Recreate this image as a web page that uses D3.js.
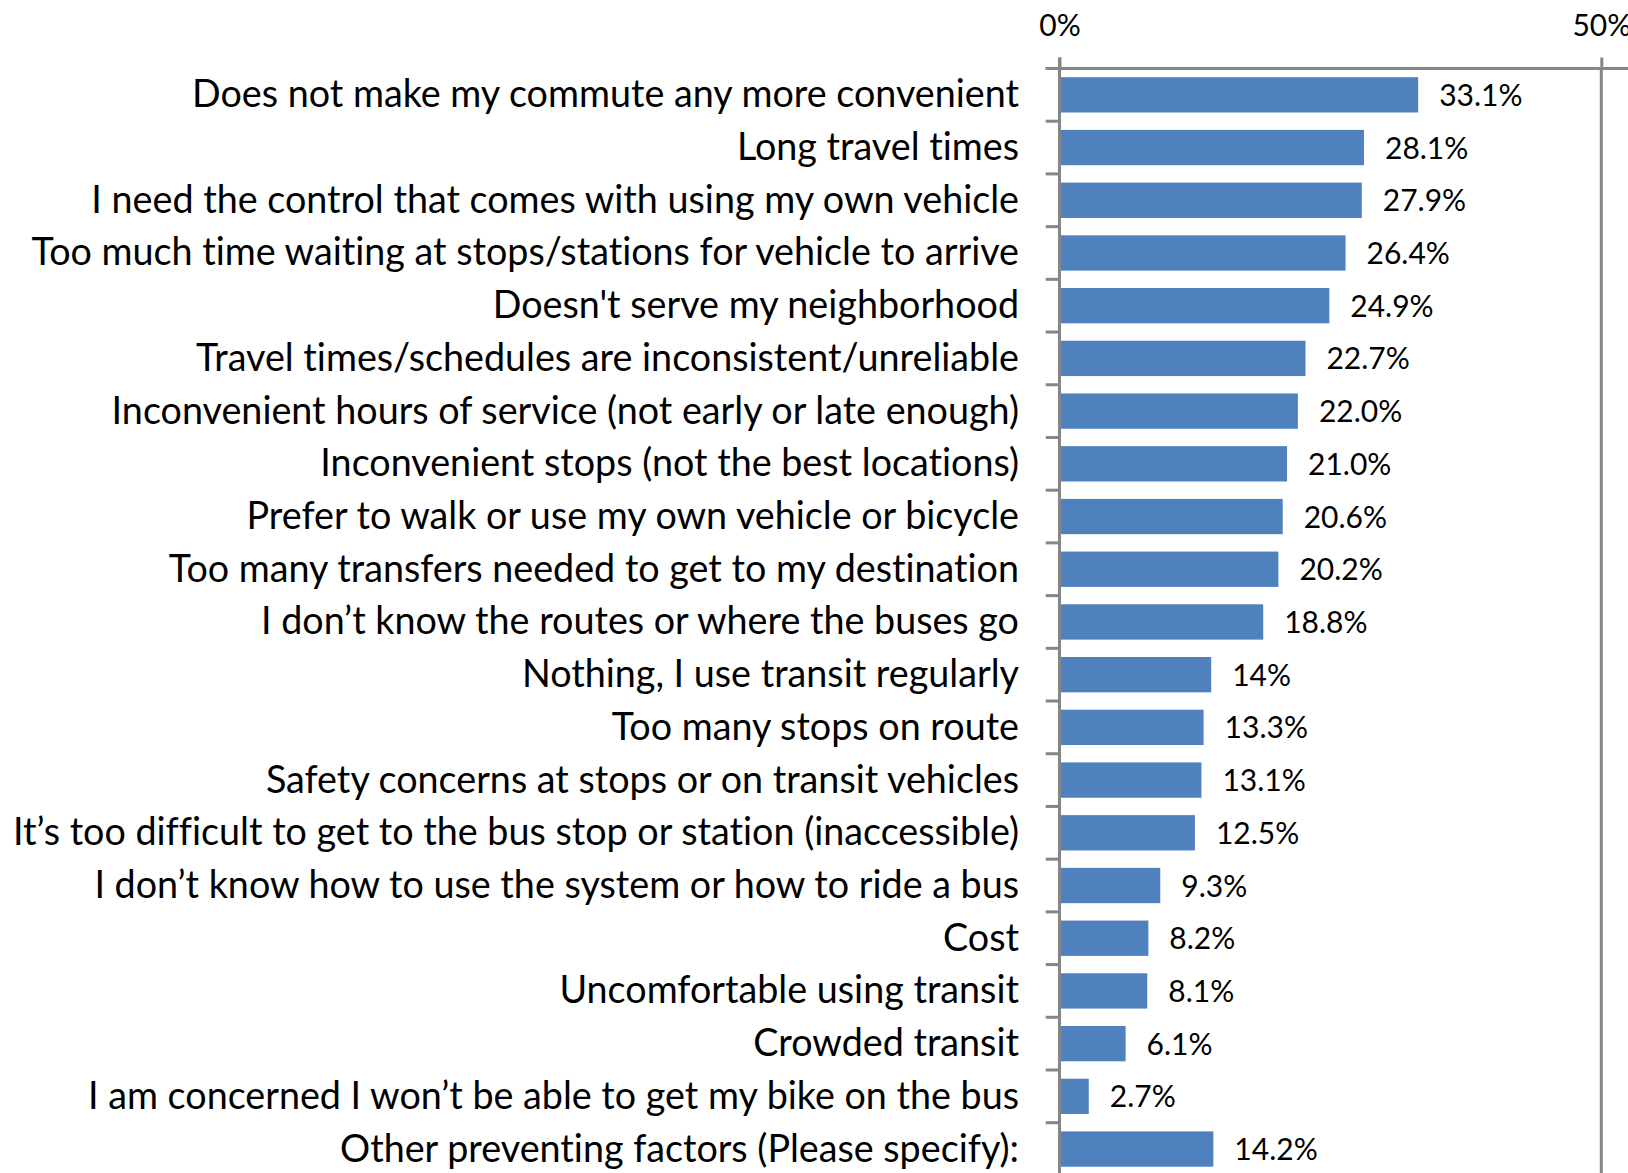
<!DOCTYPE html>
<html>
<head>
<meta charset="utf-8">
<script src="https://cdn.jsdelivr.net/npm/d3@7"></script>
<style>
  html, body { margin: 0; padding: 0; background: #ffffff; }
  svg { display: block; }
  text { font-variant-ligatures: none; }
</style>
</head>
<body>
<svg id="chart" width="1628" height="1173"></svg>
<script>
const categories = [
  "Does not make my commute any more convenient",
  "Long travel times",
  "I need the control that comes with using my own vehicle",
  "Too much time waiting at stops/stations for vehicle to arrive",
  "Doesn't serve my neighborhood",
  "Travel times/schedules are inconsistent/unreliable",
  "Inconvenient hours of service (not early or late enough)",
  "Inconvenient stops (not the best locations)",
  "Prefer to walk or use my own vehicle or bicycle",
  "Too many transfers needed to get to my destination",
  "I don\u2019t know the routes or where the buses go",
  "Nothing, I use transit regularly",
  "Too many stops on route",
  "Safety concerns at stops or on transit vehicles",
  "It\u2019s too difficult to get to the bus stop or station (inaccessible)",
  "I don\u2019t know how to use the system or how to ride a bus",
  "Cost",
  "Uncomfortable using transit",
  "Crowded transit",
  "I am concerned I won\u2019t be able to get my bike on the bus",
  "Other preventing factors (Please specify):"
];
const values = [33.1, 28.1, 27.9, 26.4, 24.9, 22.7, 22.0, 21.0, 20.6, 20.2, 18.8, 14, 13.3, 13.1, 12.5, 9.3, 8.2, 8.1, 6.1, 2.7, 14.2];
const valueLabels = ["33.1%", "28.1%", "27.9%", "26.4%", "24.9%", "22.7%", "22.0%", "21.0%", "20.6%", "20.2%", "18.8%", "14%", "13.3%", "13.1%", "12.5%", "9.3%", "8.2%", "8.1%", "6.1%", "2.7%", "14.2%"];
const xTicks = [0, 50];
const xTickLabels = ["0%", "50%"];

const svg = d3.select("#chart");
const W = 1628, H = 1173;
const x0 = 1059.5, x50 = 1601.3;
const topY = 68.5, step = 52.71;

const x = d3.scaleLinear().domain([0, 50]).range([x0, x50]);
const y = d3.scaleBand()
  .domain(categories)
  .range([topY, topY + step * categories.length])
  .paddingInner(0.33)
  .paddingOuter(0.165);

const axisColor = "#868686";
const barColor = "#4F81BD";
const fontFamily = "Lato, 'Open Sans', sans-serif";

// bars
svg.append("g").selectAll("rect")
  .data(categories)
  .join("rect")
  .attr("x", x(0))
  .attr("y", d => y(d))
  .attr("width", (d, i) => x(values[i]) - x(0))
  .attr("height", y.bandwidth())
  .attr("fill", barColor);

// gridlines (non-zero ticks) down the chart
svg.append("g").selectAll("line")
  .data(xTicks.filter(t => t !== 0))
  .join("line")
  .attr("x1", d => x(d)).attr("x2", d => x(d))
  .attr("y1", topY).attr("y2", H + 10)
  .attr("stroke", axisColor).attr("stroke-width", 3);

// top axis
const xAxis = d3.axisTop(x)
  .tickValues(xTicks)
  .tickFormat((d, i) => xTickLabels[i])
  .tickSizeInner(11)
  .tickSizeOuter(0)
  .tickPadding(22);
const gx = svg.append("g")
  .attr("transform", `translate(0,${topY})`)
  .call(xAxis);
gx.select(".domain").remove();
gx.selectAll(".tick line").attr("stroke", axisColor).attr("stroke-width", 3);
gx.selectAll(".tick text")
  .attr("fill", "#000")
  .style("font-family", fontFamily)
  .style("font-size", "30px");

// horizontal top axis line
svg.append("line")
  .attr("x1", x0 - 13.8).attr("x2", W + 10)
  .attr("y1", topY).attr("y2", topY)
  .attr("stroke", axisColor).attr("stroke-width", 3);

// vertical category axis
svg.append("line")
  .attr("x1", x0).attr("x2", x0)
  .attr("y1", topY - 11).attr("y2", H + 10)
  .attr("stroke", axisColor).attr("stroke-width", 3);

// category ticks at band boundaries
const boundaries = d3.range(categories.length + 1).map(i => topY + i * y.step());
svg.append("g").selectAll("line")
  .data(boundaries)
  .join("line")
  .attr("x1", x0 - 13.8).attr("x2", x0)
  .attr("y1", d => d).attr("y2", d => d)
  .attr("stroke", axisColor).attr("stroke-width", 3);

// category labels
svg.append("g").selectAll("text")
  .data(categories)
  .join("text")
  .attr("x", x0 - 40.5)
  .attr("y", d => y(d) + y.bandwidth() / 2 + 12.5)
  .attr("text-anchor", "end")
  .style("font-family", fontFamily)
  .style("font-size", "37.7px")
  .attr("fill", "#000")
  .text(d => d);

// value labels
svg.append("g").selectAll("text")
  .data(categories)
  .join("text")
  .attr("x", (d, i) => x(values[i]) + 21)
  .attr("y", d => y(d) + y.bandwidth() / 2 + 11)
  .style("font-family", fontFamily)
  .style("font-size", "30px")
  .attr("fill", "#000")
  .text((d, i) => valueLabels[i]);
</script>
</body>
</html>
